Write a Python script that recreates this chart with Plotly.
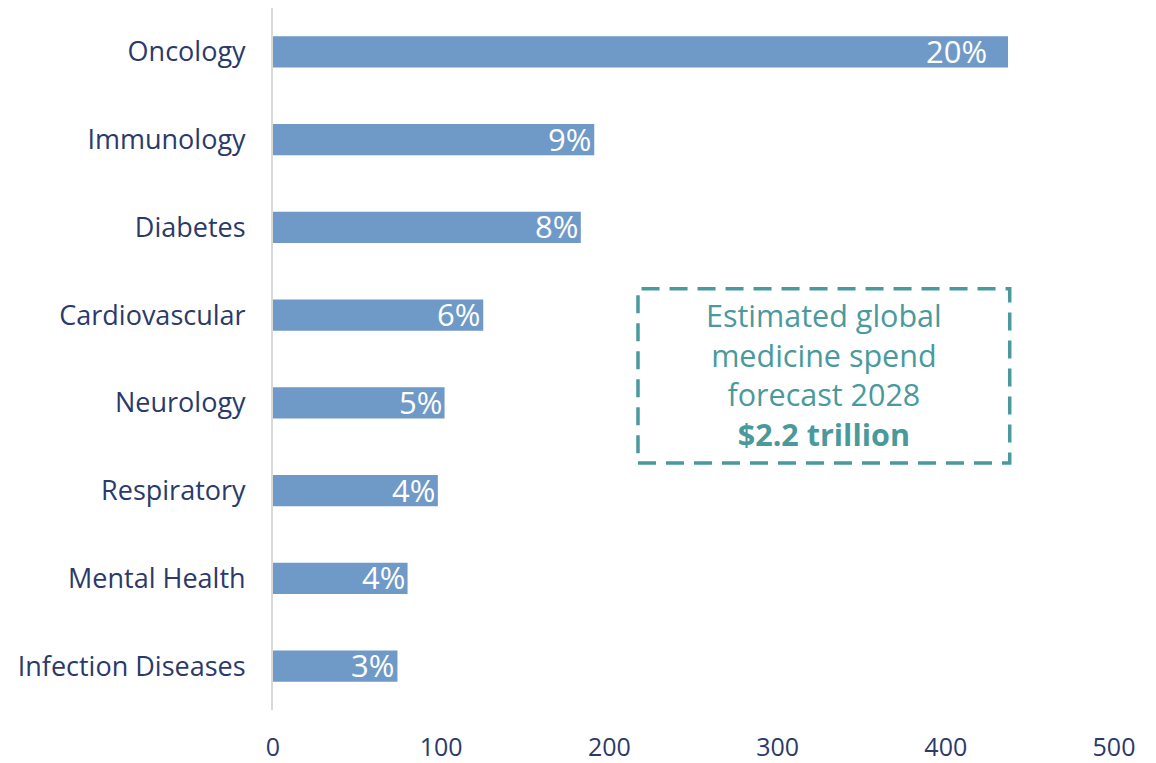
import plotly.graph_objects as go

categories = ["Oncology", "Immunology", "Diabetes", "Cardiovascular", "Neurology",
              "Respiratory", "Mental Health", "Infection Diseases"]
spend = [437, 191, 183, 125, 102, 98, 80, 74]
share_labels = ["20%", "9%", "8%", "6%", "5%", "4%", "4%", "3%"]
x_ticks = [0, 100, 200, 300, 400, 500]
callout_lines = ["Estimated global", "medicine spend", "forecast 2028", "<b>$2.2 trillion</b>"]

NAVY = "#2b3a6b"
TEAL = "#4a9a9d"
BAR = "#6f99c7"
FONT = "Open Sans"

fig = go.Figure()
fig.add_trace(go.Bar(
    x=spend, y=categories, orientation="h",
    marker=dict(color=BAR, line=dict(width=0)),
    width=0.355, hoverinfo="skip",
))

for i, (c, v, t) in enumerate(zip(categories, spend, share_labels)):
    fig.add_annotation(
        x=v, y=c, xref="x", yref="y", text=t, showarrow=False,
        xanchor="right", yanchor="middle",
        xshift=-19 if i == 0 else -1, yshift=1,
        font=dict(family=FONT, size=31, color="white"),
    )

fig.add_shape(type="rect", xref="paper", yref="paper",
              x0=0.434, x1=0.876, y0=0.352, y1=0.600,
              line=dict(color=TEAL, width=3.5, dash="18px,10px"),
              fillcolor="rgba(0,0,0,0)")
fig.add_annotation(
    xref="paper", yref="paper", x=0.655, y=0.478,
    text="<br>".join(callout_lines), showarrow=False,
    align="center", xanchor="center", yanchor="middle",
    font=dict(family=FONT, size=30.5, color=TEAL),
)

fig.update_layout(
    width=1156, height=763,
    margin=dict(l=265, r=50, t=0, b=61),
    paper_bgcolor="white", plot_bgcolor="white",
    showlegend=False,
    font=dict(family=FONT, color=NAVY),
)
fig.update_xaxes(
    range=[0, 500], tickvals=x_ticks, ticktext=[str(v) for v in x_ticks],
    showgrid=False, zeroline=False, showline=False,
    tickfont=dict(family=FONT, size=25, color=NAVY),
    ticks="", ticklabelstandoff=20,
)
fig.update_yaxes(
    categoryorder="array", categoryarray=categories[::-1],
    showgrid=False, zeroline=False,
    showline=True, linecolor="#d9d9d9", linewidth=2,
    tickfont=dict(family=FONT, size=27, color=NAVY),
    ticks="", ticklabelstandoff=20,
)

fig.write_html("out.html")
